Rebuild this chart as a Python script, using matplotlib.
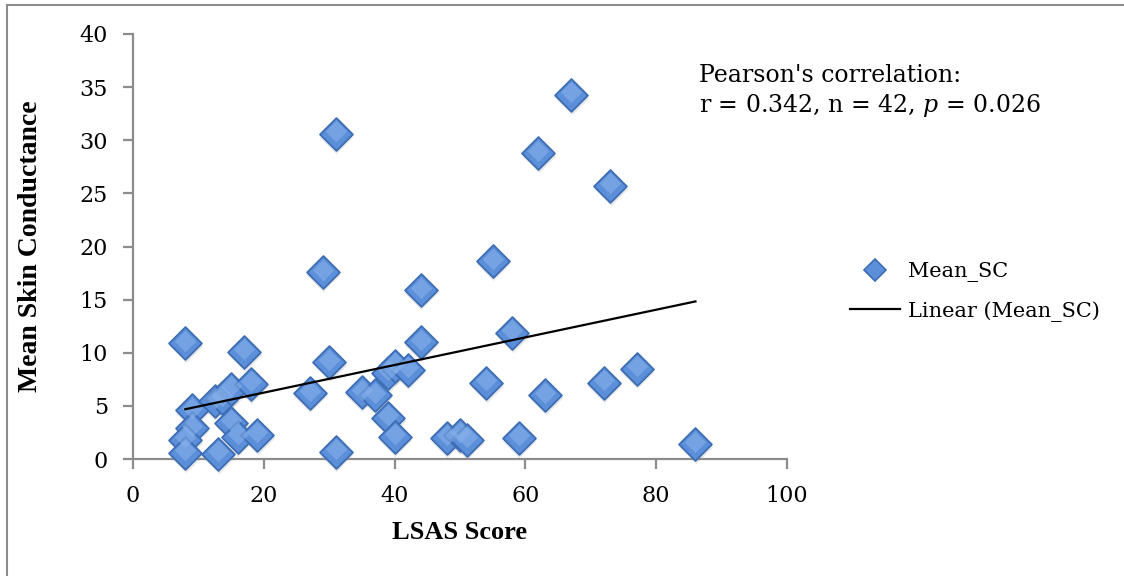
import numpy as np
import matplotlib
matplotlib.use("Agg")
import matplotlib.pyplot as plt
from matplotlib.lines import Line2D
from matplotlib.patches import Rectangle
import matplotlib.transforms as mtransforms

# LSAS score and mean skin conductance for each participant
lsas_score = [8, 17, 9, 9, 8, 8, 13, 12.5, 13.6, 15, 18, 15, 16, 19,
              30, 44, 27, 35, 37, 39, 40, 42, 39, 40, 31, 48,
              54, 63, 72, 50, 51, 59, 77, 86,
              67, 62, 73, 55, 58, 31, 29, 44]
mean_sc = [10.9, 10.1, 4.6, 2.9, 1.8, 0.6, 0.5, 5.5, 5.7, 6.6, 7.1, 3.4, 2.1, 2.3,
           9.1, 11.0, 6.2, 6.3, 6.0, 8.1, 8.8, 8.4, 3.9, 2.1, 0.7, 2.0,
           7.2, 6.0, 7.2, 2.3, 1.8, 2.0, 8.5, 1.4,
           34.3, 28.8, 25.7, 18.6, 11.9, 30.6, 17.6, 15.9]

x_ticks = [0, 20, 40, 60, 80, 100]
y_ticks = [0, 5, 10, 15, 20, 25, 30, 35, 40]
stats_text = "Pearson's correlation:\nr = 0.342, n = 42, $\\it{p}$ = 0.026"

W, H, DPI = 1124, 576, 100
plt.rcParams['font.family'] = ['DejaVu Serif']
plt.rcParams['mathtext.fontset'] = 'custom'
plt.rcParams['mathtext.it'] = 'DejaVu Serif:italic'
plt.rcParams['mathtext.rm'] = 'DejaVu Serif'
label_font = ['Liberation Serif', 'DejaVu Serif']

fig = plt.figure(figsize=(W / DPI, H / DPI), dpi=DPI)
fig.patch.set_facecolor('white')

# outer chart frame
fig.add_artist(Rectangle((7 / W, -0.1), 1.2, 1 - 5 / H + 0.1,
                         transform=fig.transFigure, fill=False,
                         edgecolor='#8c8c8c', linewidth=1.5))

ax = fig.add_axes([133 / W, 1 - 459 / H, (787 - 133) / W, (459 - 34) / H])
ax.set_xlim(0, 100)
ax.set_ylim(0, 40)

grey = '#8c8c8c'
for side in ('top', 'right'):
    ax.spines[side].set_visible(False)
for side in ('left', 'bottom'):
    ax.spines[side].set_color(grey)
    ax.spines[side].set_linewidth(1.6)
ax.tick_params(axis='both', direction='out', color=grey, width=1.6, length=7,
               labelsize=16)
ax.tick_params(axis='x', pad=12)
ax.tick_params(axis='y', pad=11)
ax.set_xticks(x_ticks)
ax.set_yticks(y_ticks)

x = np.array(lsas_score)
y = np.array(mean_sc)

# soft drop shadow under each marker
shadow = mtransforms.offset_copy(ax.transData, fig=fig, x=0.5, y=-3, units='dots')
ax.scatter(x, y, marker='D', s=290, color='#000000', alpha=0.09,
           linewidths=0, transform=shadow, zorder=2, clip_on=False)
ax.scatter(x, y, marker='D', s=280, facecolor='#5b8fd9', edgecolor='#3d6db3',
           linewidths=1.3, zorder=3, clip_on=False)
# lighter upper sheen
sheen = mtransforms.offset_copy(ax.transData, fig=fig, x=0, y=2.5, units='dots')
ax.scatter(x, y, marker='D', s=120, color='#8db5ec', alpha=0.5,
           linewidths=0, transform=sheen, zorder=4, clip_on=False)

# least-squares trend line
slope, intercept = np.polyfit(x, y, 1)
xl = np.array([x.min(), x.max()])
ax.plot(xl, slope * xl + intercept, color='black', linewidth=1.6, zorder=5)

ax.set_xlabel('LSAS Score', fontsize=19, fontweight='bold', family=label_font,
              labelpad=10)
ax.set_ylabel('Mean Skin Conductance', fontsize=20, fontweight='bold',
              family=label_font, labelpad=26)

fig.text(699 / W, 1 - 64 / H, stats_text, fontsize=17, va='top', ha='left',
         linespacing=1.25)

handles = [
    Line2D([], [], marker='D', linestyle='none', markersize=11,
           markerfacecolor='#5b8fd9', markeredgecolor='#3d6db3', markeredgewidth=1.2),
    Line2D([], [], color='black', linewidth=1.6),
]
fig.legend(handles, ['Mean_SC', 'Linear (Mean_SC)'], loc='center left',
           bbox_to_anchor=(840 / W, 1 - 292 / H), frameon=False, fontsize=15,
           handlelength=2.4, handletextpad=0.35, labelspacing=0.9,
           borderpad=0)

fig.savefig('out.png', dpi=DPI, facecolor='white')
